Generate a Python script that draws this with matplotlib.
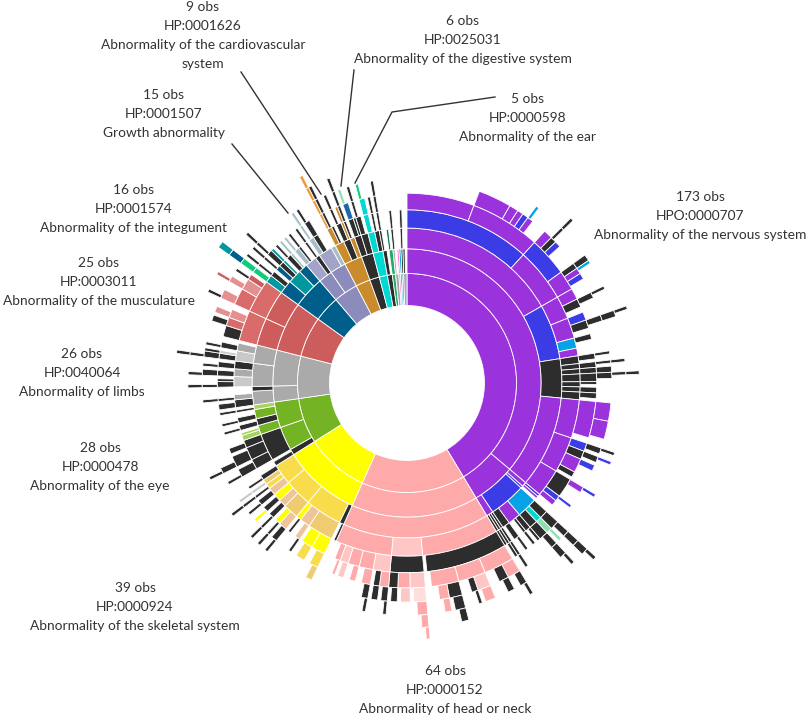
import numpy as np
import matplotlib
matplotlib.use('Agg')
import matplotlib.pyplot as plt

# colours of the HPO terms
P = '#9a33dc'    # purple
B = '#3c3ce6'    # blue
K = '#2d2d2d'    # near black
S = '#05a2e6'    # sky blue
T = '#00d8d4'    # turquoise
M = '#8fe0b0'    # mint
PK = '#ffaaaa'   # pink
LP = '#ffc6c6'   # light pink
VLP = '#ffdede'
Y = '#ffff00'
G1 = '#f8dc4c'   # gold
TN = '#f0cc70'   # tan
PE = '#efc497'   # peach
GR = '#73b324'   # green
LG = '#a6d35a'
GY = '#aaaaaa'
LGY = '#c9c9c9'
R = '#cd5c5c'
R2 = '#d96b6b'
R3 = '#e59090'
DB = '#005f8a'
TE = '#00979e'
EM = '#10cc7a'
LV = '#8c8cbc'
LV2 = '#a3a3c9'
GB = '#a5bfc8'
O = '#c98b2b'
O2 = '#ee9a35'
SG = '#22aa66'
DG = '#0b7a4e'
MA = '#ff7ad6'
DB2 = '#1a6aaa'

# each node: [obs, colour, children...]
nervous = [173, P,
    [151, P,
        [70, P,
            [49, B,
                [24, P],
                [25, P, [11, P], [3, P], [2, P], [2, B], [2, P, [1, S]]]],
            [21, P,
                [14, B, [3, P], [2, K, [1, K, [1, K]]], [2, B]],
                [7, P, [2, K, [2, K]], [2, P, [1, S]], [2, B]]]],
        [24, B,
            [9, P, [4, P], [3, K, [2, K, [1, K]]]],
            [8, P, [3, B], [3, K, [2, K, [2, K, [1, K]]]]],
            [4, S, [2, K]],
            [3, P]],
        [17, K,
            [3, K, [2, K, [1, K]]],
            [2, K, [2, K, [1, K, [1, K]]]],
            [2, K, [2, K, [2, K]]],
            [3, K, [3, K, [2, K, [1, K, [1, K]]]]],
            [2, K, [1, K]],
            [2, K, [2, K]],
            [3, K, [2, K]]],
        [40, P,
            [15, P, [13, P, [6, P], [6, P]]],
            [14, P, [3, B, [2, K, [1, K]]], [3, K, [2, K, [1, B]]], [5, P, [2, B]], [2, K]],
            [11, P, [7, K, [2, P, [1, B]]], [2, B, [1, B]], [2, P]]]],
    [22, P,
        [2, P, [1, B], [1, P]],
        [1, B],
        [16, B,
            [8, S,
                [3, K, [3, K, [2, K, [2, K, [2, K, [1, K]]]]]],
                [2, T, [2, M, [1, M]]],
                [3, K, [3, K, [2, K, [2, K, [1, K]]]]]],
            [5, P, [2, K, [1, K]], [1, K, [1, K]]],
            [3, K, [2, K, [1, K]]]],
        [3, P, [1, K, [1, K, [1, K, [1, K]]]], [1, K, [1, K, [1, K]]], [1, K, [1, K]]]]]

head = [64, PK,
    [64, PK,
        [64, PK,
            [30, PK,
                [29, K,
                    [10, PK, [4, PK, [2, K, [1, K]]], [3, K, [2, K]]],
                    [9, PK, [4, LP, [3, PK]], [2, K, [1, K]]],
                    [9, PK, [4, K, [3, K, [2, K]]], [3, PK, [2, PK]]]]],
            [12, LP,
                [12, K,
                    [5, LP, [4, VLP, [3, PK, [2, PK, [1, PK]]]]],
                    [4, PK, [3, LP]],
                    [3, K, [2, K]]]],
            [22, PK,
                [6, LP, [3, PK, [2, K, [1, K]]], [2, K, [2, K]]],
                [5, PK, [3, PK, [2, K, [1, K]]]],
                [4, PK, [2, PK]],
                [3, LP, [2, LP]],
                [2, PK, [1, PK]]]]]]

skeletal = [39, Y,
    [39, Y,
        [2, K, [1, K]],
        [16, G1,
            [10, TN, [5, Y, [3, G1, [2, TN]]], [4, Y, [3, G1]]],
            [4, PE, [2, PE, [1, K]]],
            [2, Y, [1, K]]],
        [12, G1,
            [6, TN, [3, PE, [2, K, [1, K]]], [2, Y, [1, K, [1, K]]]],
            [3, PE, [2, K, [1, K, [1, K]]]],
            [3, Y, [2, K, [1, Y]]]],
        [9, G1,
            [3, PE, [2, K, [1, K]]],
            [2, G1, [1, K, [1, K, [1, K]]]],
            [2, TN, [1, LGY, [1, LGY]]],
            [2, K, [1, K]]]]]

eye = [28, GR,
    [3, K, [2, K]],
    [12, GR,
        [12, K,
            [4, K, [3, K, [1, K]]],
            [5, K, [4, K, [2, K, [1, K]]]],
            [3, K, [2, K]]]],
    [13, GR,
        [4, GR, [2, LG], [1, LG]],
        [3, K, [2, K, [1, K]]],
        [4, GR, [2, K, [1, K]]],
        [2, LG, [1, K, [1, K]]]]]

limbs = [26, GY,
    [8, GY,
        [6, GY, [3, K, [2, K]], [2, GY, [1, K, [1, K]]]],
        [2, K]],
    [18, GY,
        [10, GY,
            [4, LGY, [2, K, [1, K, [1, K]]], [1, K]],
            [3, GY, [2, K, [2, K, [1, K]]]],
            [3, K, [2, K, [1, K]]]],
        [8, GY,
            [4, LGY, [2, K, [2, K, [1, K, [1, K]]]], [1, LGY, [1, K]]],
            [3, GY, [2, K, [1, K]]]]]]

musculature = [25, R,
    [25, R,
        [12, R, [12, R2, [4, K], [3, R2, [2, K]], [3, R3, [2, R3]]]],
        [13, R, [13, R2, [6, R2, [3, R3, [1, K]]], [4, R3, [2, R3, [1, R]]], [2, R, [1, K]]]]]]

integument = [16, DB,
    [16, DB,
        [6, DB, [3, TE, [2, EM, [2, EM, [2, DB, [2, TE]]]]], [2, K, [1, K, [1, K]]]],
        [6, TE, [2, DB, [1, K, [1, K]]], [2, K, [2, K, [1, K, [1, K]]]], [1, TE, [1, TE]]],
        [4, DB, [2, K, [1, K]], [1, GB, [1, GB]]]]]

growth = [15, LV,
    [7, LV, [5, LV2, [2, GB, [1, GB]], [1, K, [1, K]]], [2, K, [1, K, [1, K]]]],
    [8, LV, [6, LV2, [2, GB, [1, GB, [1, GB]]], [2, K, [2, K, [1, K]]]], [2, GB]]]

cardio = [9, O,
    [9, O,
        [4, O, [2, O, [1, O2, [1, O2, [1, O2, [1, O2]]]], [1, K, [1, K, [1, K]]]], [1, K]],
        [3, K, [2, K, [1, K, [1, K]]], [1, O, [1, O]]],
        [2, O, [1, K, [1, K, [1, K, [1, K]]]]]]]

digestive = [6, K,
    [6, K,
        [3, K, [2, K, [2, DB2, [1, M]]], [1, K]],
        [3, K, [2, K, [1, K, [1, K]]]]]]

ear = [5, T, [5, T, [3, T, [2, T, [2, T, [1, EM]]]], [2, K, [1, K, [1, K]]]]]

others = [[3, K, [2, K, [1, K, [1, K, [1, K, [1, K]]]]]],
          [2, SG, [2, SG, [1, DG]]],
          [2, GY, [1, GY, [1, K, [1, K]]]],
          [1, MA, [1, MA]],
          [1, S, [1, S]],
          [1, DG, [1, K, [1, K, [1, K]]]],
          [2, LV2, [1, K]]]

top = [nervous, head, skeletal, eye, limbs, musculature, integument,
       growth, cardio, digestive, ear] + others

term_ids = ['HPO:0000707', 'HP:0000152', 'HP:0000924', 'HP:0000478', 'HP:0040064',
            'HP:0003011', 'HP:0001574', 'HP:0001507', 'HP:0001626', 'HP:0025031',
            'HP:0000598']
term_names = ['Abnormality of the nervous system', 'Abnormality of head or neck',
              'Abnormality of the skeletal system', 'Abnormality of the eye',
              'Abnormality of limbs', 'Abnormality of the musculature',
              'Abnormality of the integument', 'Growth abnormality',
              'Abnormality of the cardiovascular\nsystem',
              'Abnormality of the digestive system', 'Abnormality of the ear']

# label placement (pixels, centre of first line) and leader lines
label_pos = [(700, 197), (445, 671), (135, 588), (100, 448), (82, 354), (99, 263),
             (134, 190), (164, 95), (203, 7), (463, 21), (528, 99)]
leaders = {7: [(232, 144), (288, 213)],
           8: [(241, 72), (321, 194)],
           9: [(354, 70), (341, 186)],
           10: [(495, 97), (392, 112), (355, 183)]}


def layout(node, level, start, out):
    out.append((level, start, node[0], node[1]))
    pos = start
    for child in node[2:]:
        layout(child, level + 1, pos, out)
        pos += child[0]


segs = []
pos = 0
for node in top:
    layout(node, 1, pos, segs)
    pos += node[0]
total = pos
scale = 2 * np.pi / total


def radius(k):
    # equal-area rings, hole = level 0
    return np.sqrt(6000.0 * (k + 1))


W, H = 809, 718
cx, cy = 407, 383
RM = 300
fig = plt.figure(figsize=(W / 100, H / 100), dpi=100)
ax = fig.add_axes([(cx - RM) / W, (H - cy - RM) / H, 2 * RM / W, 2 * RM / H], projection='polar')
ax.set_theta_zero_location('N')
ax.set_theta_direction(-1)

lev = np.array([s[0] for s in segs])
st = np.array([s[1] for s in segs], dtype=float)
val = np.array([s[2] for s in segs], dtype=float)
cols = [s[3] for s in segs]
r0 = radius(lev - 1)
r1 = radius(lev)
ax.bar((st + val / 2) * scale, r1 - r0, width=val * scale, bottom=r0, color=cols,
       edgecolor='white', linewidth=0.6, align='center')
ax.set_rlim(0, RM)
ax.set_axis_off()

ov = fig.add_axes([0, 0, 1, 1])
ov.set_xlim(0, W)
ov.set_ylim(H, 0)
ov.set_axis_off()

for i, (x, y) in enumerate(label_pos):
    lines = ['%d obs' % top[i][0], term_ids[i]] + term_names[i].split('\n')
    for j, txt in enumerate(lines):
        ov.text(x, y + 19 * j, txt, ha='center', va='center', fontsize=9.9,
                family='Lato', color='#333333')

for i, pts in leaders.items():
    xs, ys = zip(*pts)
    ov.plot(xs, ys, color='#333333', lw=1)

fig.savefig('out.png', dpi=100)
